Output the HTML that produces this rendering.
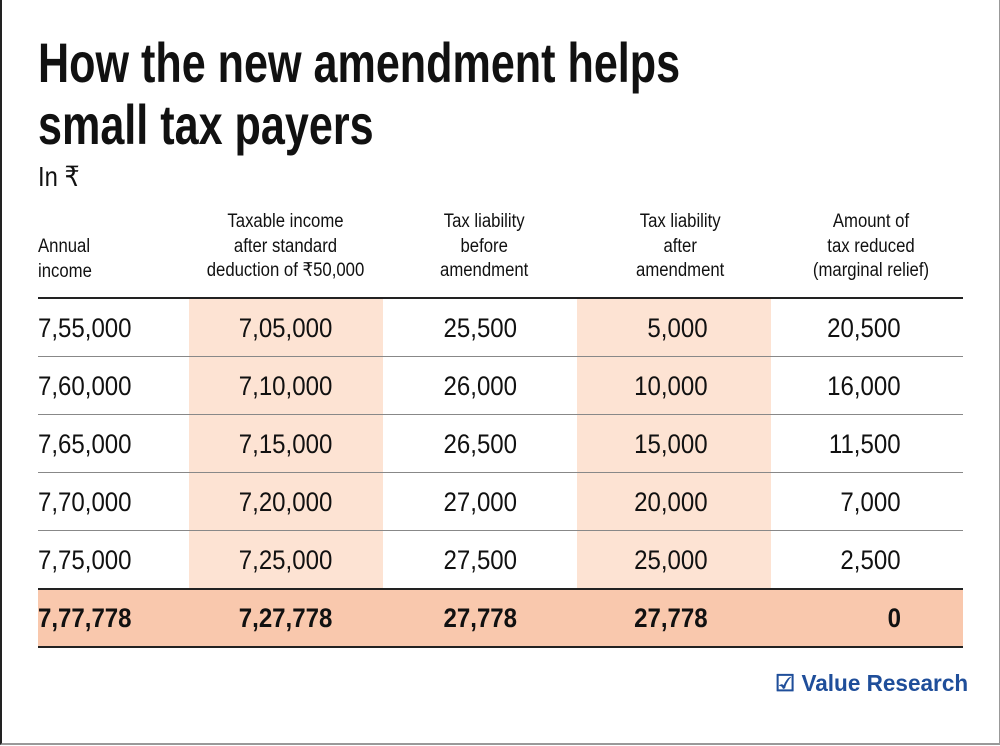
<!DOCTYPE html>
<html><head><meta charset="utf-8"><style>
body{margin:0;width:1000px;height:746px;overflow:hidden;background:#fff;font-family:"Liberation Sans",sans-serif;color:#111;position:relative}
.frame{position:absolute;left:0;top:0;width:997px;height:743px;border-left:2px solid #222;border-right:2px solid #999;border-bottom:2px solid #999}
.a{position:absolute;white-space:nowrap}
.s{display:inline-block;transform-origin:left top}
.sh{position:absolute;background:#fde3d3}
.ln{position:absolute;left:38px;width:925px}
.cell{position:absolute;font-size:27px;line-height:30px;white-space:nowrap}
.cell span{display:inline-block;transform:scaleX(.89)}
.l span{transform-origin:left}
.m span{transform-origin:center}
.r span{transform-origin:right}
.h{position:absolute;font-size:19px;line-height:24.5px;text-align:center;width:240px}
.h span{display:inline-block;transform:scaleX(.88)}
</style></head><body>
<div class="frame"></div>
<div class="a" style="left:38px;top:32px;font-size:56px;font-weight:bold;line-height:62px"><span class="s" style="transform:scaleX(.77)">How the new amendment helps<br>small tax payers</span></div>
<div class="a" style="left:38px;top:160px;font-size:28px"><span class="s" style="transform:scaleX(.85)">In ₹</span></div>

<div class="sh" style="left:189px;top:299px;width:194px;height:290px"></div>
<div class="sh" style="left:577px;top:299px;width:194px;height:290px"></div>
<div class="ln" style="top:589px;height:57px;background:#f9c8ad"></div>

<div class="h" style="left:38px;top:235px;text-align:left"><span style="transform-origin:left">Annual<br>income</span></div>
<div class="h" style="left:166px;top:210px"><span>Taxable income<br>after standard<br>deduction of ₹50,000</span></div>
<div class="h" style="left:364px;top:210px"><span>Tax liability<br>before<br>amendment</span></div>
<div class="h" style="left:560px;top:210px"><span>Tax liability<br>after<br>amendment</span></div>
<div class="h" style="left:751px;top:210px"><span>Amount of<br>tax reduced<br>(marginal relief)</span></div>

<div class="ln" style="top:297px;height:2px;background:#222"></div>
<div class="ln" style="top:356px;height:1px;background:#888"></div>
<div class="ln" style="top:414px;height:1px;background:#888"></div>
<div class="ln" style="top:472px;height:1px;background:#888"></div>
<div class="ln" style="top:530px;height:1px;background:#888"></div>
<div class="ln" style="top:588px;height:2px;background:#222"></div>
<div class="ln" style="top:646px;height:2px;background:#222"></div>

<div id="rows"></div>
<script>
var d=[["7,55,000","7,05,000","25,500","5,000","20,500"],["7,60,000","7,10,000","26,000","10,000","16,000"],["7,65,000","7,15,000","26,500","15,000","11,500"],["7,70,000","7,20,000","27,000","20,000","7,000"],["7,75,000","7,25,000","27,500","25,000","2,500"],["7,77,778","7,27,778","27,778","27,778","0"]];
var h="";
d.forEach(function(r,i){var y=313+i*58;var b=i==5?"font-weight:bold;":"";
h+='<div class="cell l" style="'+b+'left:38px;top:'+y+'px"><span>'+r[0]+'</span></div>';
h+='<div class="cell m" style="'+b+'left:186px;width:200px;text-align:center;top:'+y+'px"><span>'+r[1]+'</span></div>';
h+='<div class="cell m" style="'+b+'left:380px;width:200px;text-align:center;top:'+y+'px"><span>'+r[2]+'</span></div>';
h+='<div class="cell r" style="'+b+'left:508px;width:200px;text-align:right;top:'+y+'px"><span>'+r[3]+'</span></div>';
h+='<div class="cell r" style="'+b+'left:701px;width:200px;text-align:right;top:'+y+'px"><span>'+r[4]+'</span></div>';});
document.getElementById("rows").innerHTML=h;
</script>
<div class="a" style="left:775px;top:670px;font-size:23px;font-weight:bold;color:#1f4e9a"><span class="s" style="transform:scaleX(.98)">☑ Value Research</span></div>
</body></html>
